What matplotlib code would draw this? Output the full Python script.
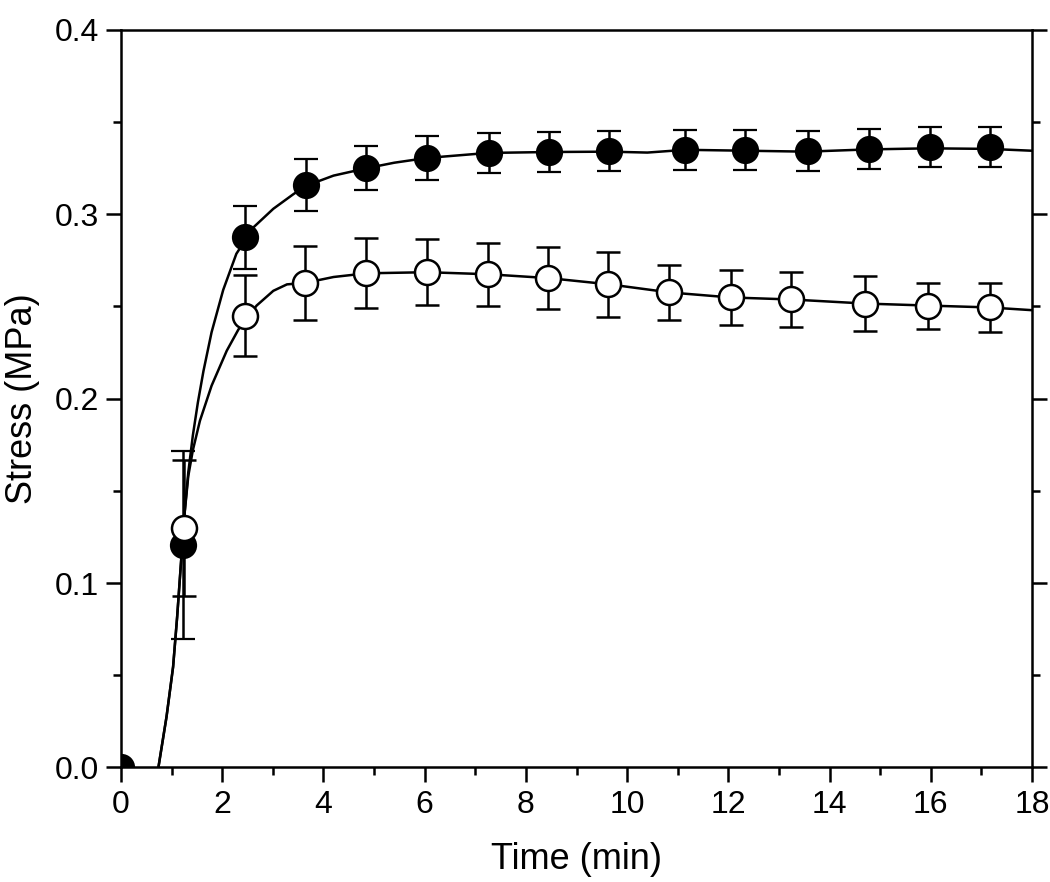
import matplotlib
matplotlib.use("Agg")
import matplotlib.pyplot as plt
from matplotlib.ticker import MultipleLocator, FormatStrFormatter

plt.rcParams['font.family'] = ['Liberation Sans', 'DejaVu Sans']

# Measured points (filled circles)
t_filled = [0.0, 1.22, 2.45, 3.66, 4.85, 6.05, 7.28, 8.45, 9.64, 11.14, 12.32, 13.57, 14.77, 15.98, 17.17]
s_filled = [0.0, 0.1205, 0.2875, 0.3159, 0.3252, 0.3306, 0.3333, 0.3338, 0.3344, 0.3349, 0.3349, 0.3344, 0.3355, 0.3366, 0.3366]
e_filled = [0.0, 0.051, 0.017, 0.014, 0.012, 0.012, 0.011, 0.011, 0.011, 0.011, 0.011, 0.011, 0.011, 0.011, 0.011]

# Measured points (open circles)
t_open = [1.24, 2.45, 3.64, 4.85, 6.05, 7.26, 8.43, 9.63, 10.82, 12.05, 13.23, 14.70, 15.94, 17.17]
s_open = [0.1297, 0.2451, 0.2628, 0.268, 0.2686, 0.2675, 0.2654, 0.262, 0.2576, 0.2549, 0.2538, 0.2516, 0.2505, 0.2495]
e_open = [0.037, 0.022, 0.020, 0.019, 0.018, 0.017, 0.017, 0.0175, 0.015, 0.015, 0.015, 0.015, 0.0125, 0.0135]

# Continuous curves
curve_t_filled = [0.74, 0.90, 1.03, 1.11, 1.18, 1.25, 1.33, 1.42, 1.52, 1.63, 1.79, 2.02, 2.28, 2.62,
                  3.01, 3.41, 3.66, 4.2, 4.85, 5.4, 6.05, 7.25, 8.45, 9.65, 10.4, 11.15, 12.35, 13.55,
                  14.75, 15.95, 17.15, 18.0]
curve_s_filled = [0.0, 0.0274, 0.0545, 0.0816, 0.1087, 0.1358, 0.160, 0.180, 0.198, 0.215, 0.236,
                  0.259, 0.2786, 0.293, 0.303, 0.311, 0.3155, 0.321, 0.325, 0.328, 0.3306, 0.3333,
                  0.3338, 0.3340, 0.3335, 0.335, 0.3345, 0.334, 0.3352, 0.3358, 0.3355, 0.3345]
curve_t_open = [0.74, 0.90, 1.03, 1.11, 1.18, 1.25, 1.33, 1.42, 1.56, 1.79, 2.09, 2.32, 2.68, 3.01,
                3.28, 3.64, 4.2, 4.85, 6.05, 7.25, 8.45, 9.65, 10.85, 12.05, 13.25, 14.7, 15.95,
                17.15, 18.0]
curve_s_open = [0.0, 0.0274, 0.0545, 0.0816, 0.1087, 0.1358, 0.158, 0.172, 0.188, 0.207, 0.226,
                0.2375, 0.2505, 0.2585, 0.262, 0.2628, 0.266, 0.268, 0.2686, 0.2675, 0.2654, 0.262,
                0.2576, 0.2549, 0.2538, 0.2516, 0.2505, 0.2495, 0.248]

fig = plt.figure(figsize=(10.5, 8.82), dpi=100)
ax = fig.add_axes([0.1152, 0.13, 0.8677, 0.836])

ax.plot(curve_t_filled, curve_s_filled, color='black', lw=1.8, zorder=2)
ax.plot(curve_t_open, curve_s_open, color='black', lw=1.8, zorder=2)

ax.errorbar(t_filled, s_filled, yerr=e_filled, fmt='o', ms=18, mfc='black', mec='black', mew=1.6,
            ecolor='black', elinewidth=1.8, capsize=8.5, capthick=1.8, zorder=3)
ax.errorbar(t_open, s_open, yerr=e_open, fmt='o', ms=18, mfc='white', mec='black', mew=1.8,
            ecolor='black', elinewidth=1.8, capsize=8.5, capthick=1.8, zorder=4)

ax.set_xlim(0, 18)
ax.set_ylim(0, 0.4)
ax.xaxis.set_major_locator(MultipleLocator(2))
ax.xaxis.set_minor_locator(MultipleLocator(1))
ax.yaxis.set_major_locator(MultipleLocator(0.1))
ax.yaxis.set_minor_locator(MultipleLocator(0.05))
ax.yaxis.set_major_formatter(FormatStrFormatter('%.1f'))

for sp in ax.spines.values():
    sp.set_linewidth(1.8)

ax.tick_params(which='both', direction='out', width=1.8, labelsize=23,
               left=True, bottom=True, right=True, top=False)
ax.tick_params(which='major', length=11, pad=5)
ax.tick_params(which='minor', length=6)

ax.set_xlabel('Time (min)', fontsize=26, labelpad=16)
ax.set_ylabel('Stress (MPa)', fontsize=26, labelpad=10)

fig.savefig('out.png', dpi=100)
